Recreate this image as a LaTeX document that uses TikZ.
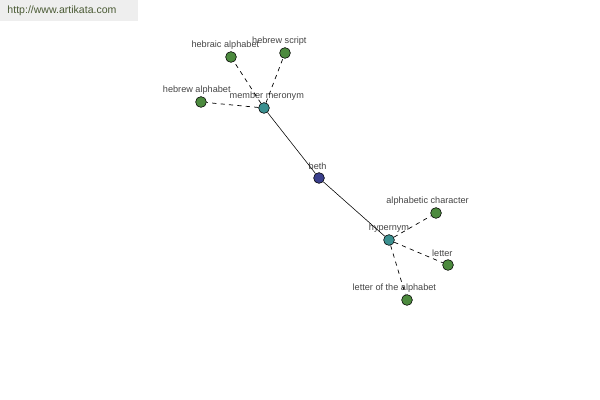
\documentclass[tikz,border=0pt]{standalone}
\usepackage{fontspec}
\setmainfont{Liberation Sans}
\usepackage{tikz}
\usetikzlibrary{positioning}
\definecolor{leafgreen}{HTML}{4C8A3E}
\definecolor{relteal}{HTML}{3B9090}
\definecolor{rootblue}{HTML}{3A3F8C}
\definecolor{labgray}{HTML}{444444}
\definecolor{headgray}{HTML}{EEEEEE}
\definecolor{headtext}{HTML}{4A5A34}
\tikzset{
  dot/.style={circle,draw=black,line width=0.4pt,minimum size=0.27cm,inner sep=0pt},
  leaf/.style={dot,fill=leafgreen},
  rel/.style={dot,fill=relteal},
  root/.style={dot,fill=rootblue},
  lab/.style={font=\fontsize{6.5}{7}\selectfont,text=labgray,inner sep=0pt},
  sub/.style={dash pattern=on 3pt off 3pt,line width=0.5pt},
}
\begin{document}
\begin{tikzpicture}[x=0.025cm,y=-0.025cm]
		\useasboundingbox (0,0) rectangle (600,400);
		\fill[headgray] (0,0) rectangle (138,21);
		\node[font=\fontsize{7.5}{8}\selectfont,text=headtext] (site) at (62,11) {http://www.artikata.com};

		\node[root] (beth) at (319,178) {};
		\node[rel] (mero) at (264,108) {};
		\node[rel] (hyper) at (389,240) {};

		\node[leaf] (hebraic) at (231,57) {};
		\node[leaf] (script) at (285,53) {};
		\node[leaf] (hebalpha) at (201,102) {};
		\node[leaf] (alphchar) at (436,213) {};
		\node[leaf] (letter) at (448,265) {};
		\node[leaf] (letalpha) at (407,300) {};

		% labels
		\node[lab,above=1.5pt of beth,xshift=-1pt] (bethlab) {beth};
		\node[lab,above=1.5pt of mero,xshift=2pt] (merolab) {member meronym};
		\node[lab,above=1.5pt of hyper] (hyperlab) {hypernym};
		\node[lab,above=1.5pt of hebraic,xshift=-4pt] (hebraiclab) {hebraic alphabet};
		\node[lab,above=1.5pt of script,xshift=-4pt] (scriptlab) {hebrew script};
		\node[lab,above=1.5pt of hebalpha,xshift=-3pt] (hebalphalab) {hebrew alphabet};
		\node[lab,above=1.5pt of alphchar,xshift=-6pt] (alphcharlab) {alphabetic character};
		\node[lab,above=1.5pt of letter,xshift=-4pt] (letterlab) {letter};
		\node[lab,above=1.5pt of letalpha,xshift=-9pt] (letalphalab) {letter of the alphabet};

		% links
		\draw[line width=0.4pt] (mero) -- (beth);
		\draw[line width=0.4pt] (beth) -- (hyper);
		\draw[sub] (mero) -- (hebraic);
		\draw[sub] (mero) -- (script);
		\draw[sub] (mero) -- (hebalpha);
		\draw[sub] (hyper) -- (alphchar);
		\draw[sub] (hyper) -- (letter);
		\draw[sub] (hyper) -- (letalpha);
	\end{tikzpicture}
\end{document}
